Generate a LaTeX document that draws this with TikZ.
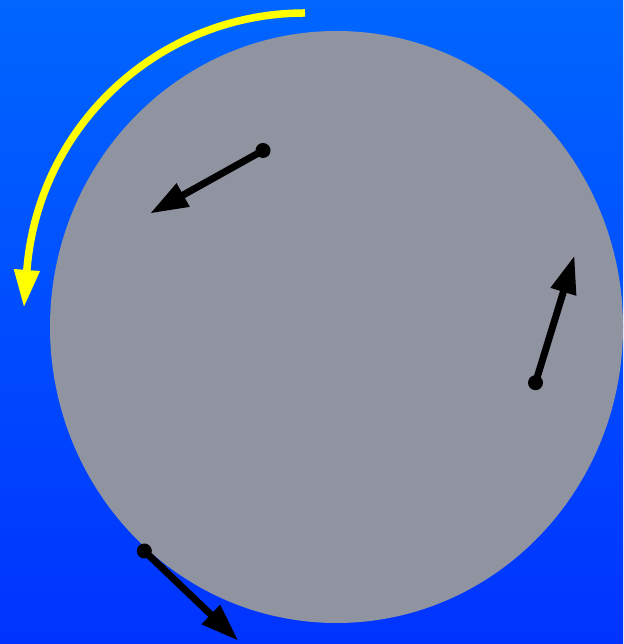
\documentclass[tikz,border=0pt]{standalone}
\usetikzlibrary{arrows.meta}
\definecolor{bgtop}{RGB}{0,102,255}
\definecolor{bgbot}{RGB}{0,51,255}
\definecolor{disc}{RGB}{144,147,160}
\definecolor{arcyel}{RGB}{255,255,0}
\tikzset{
  vec/.style={line width=7pt, black, -{Triangle[length=38pt,width=25pt]}},
  dot/.style={circle, fill=black, inner sep=0pt, minimum size=15pt},
  spin/.style={line width=7.5pt, arcyel, -{Triangle[length=38pt,width=24pt]}}
}
\begin{document}
\begin{tikzpicture}[x=1pt,y=1pt]
  \useasboundingbox (0,0) rectangle (623,644);
  \shade[top color=bgtop, bottom color=bgbot] (0,0) rectangle (623,644);
  \fill[disc] (336.5,317) ellipse [x radius=286.5, y radius=296];
  % yellow rotation arrow
  \coordinate (ys) at (305,631);
  \draw[spin] (ys) arc[start angle=90, end angle=175.46, radius=279] -- ++(-3,-38);
  % velocity vectors
  \node[dot] (d1) at (263,493.5) {};
  \coordinate (t1) at (150,430.5);
  \node[dot] (d2) at (535.5,261.3) {};
  \coordinate (t2) at (574.5,388.5);
  \node[dot] (d3) at (144.3,93) {};
  \coordinate (t3) at (238.3,3.3);
  \draw[vec] (d1.center) -- (t1);
  \draw[vec] (d2.center) -- (t2);
  \draw[vec] (d3.center) -- (t3);
\end{tikzpicture}
\end{document}
